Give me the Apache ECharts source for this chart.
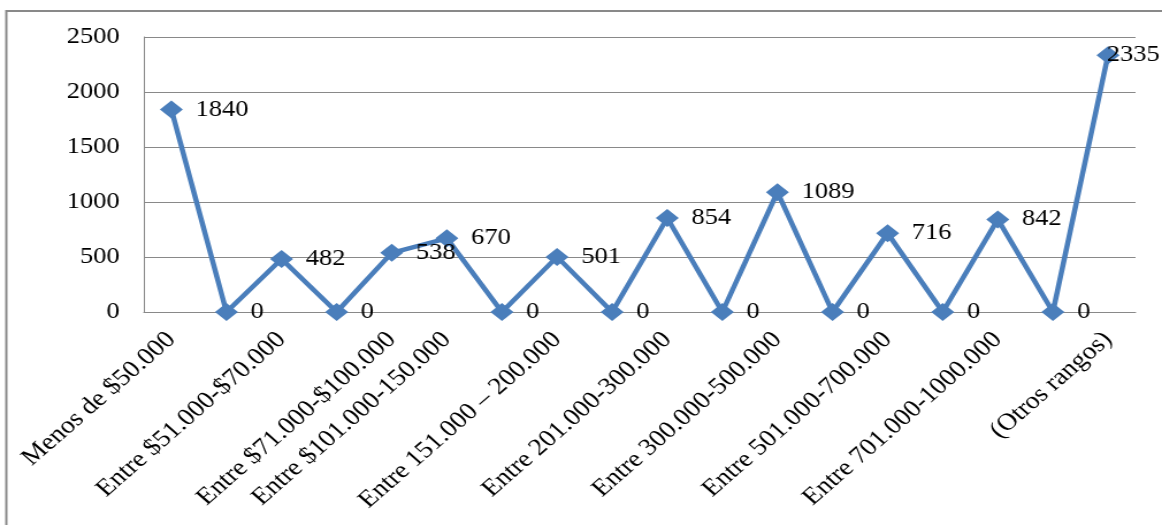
<!DOCTYPE html>
<html>
<head>
<meta charset="utf-8">
<script src="https://cdn.jsdelivr.net/npm/echarts@6/dist/echarts.min.js"></script>
<style>
  html, body { margin: 0; padding: 0; background: #ffffff; overflow: hidden; }
  /* the chart is laid out on a narrower canvas and widened horizontally */
  #chart { width: 1010px; height: 525px; transform: scaleX(1.1505); transform-origin: 0 0; }
</style>
</head>
<body>
<div id="chart"></div>
<script>
// Income ranges (unnamed slots are empty ranges between the named ones)
const categories = [
  'Menos de $50.000', '',
  'Entre $51.000-$70.000', '',
  'Entre $71.000-$100.000',
  'Entre $101.000-150.000', '',
  'Entre 151.000 \u2013 200.000', '',
  'Entre 201.000-300.000', '',
  'Entre 300.000-500.000', '',
  'Entre 501.000-700.000', '',
  'Entre 701.000-1000.000', '',
  '(Otros rangos)'
];
const values = [1840, 0, 482, 0, 538, 670, 0, 501, 0, 854, 0, 1089, 0, 716, 0, 842, 0, 2335];
const yMin = 0, yMax = 2500, yStep = 500;

const FONT = '"Liberation Serif", "Times New Roman", serif';
const BLUE = '#4a7ebb';
const GRID = '#898989';

// the last label sits over its marker so it stays inside the frame
const seriesData = values.map((v, i) => i === values.length - 1
  ? { value: v, label: { position: 'inside', offset: [22, 0] } }
  : v);

const chart = echarts.init(document.getElementById('chart'), null, { renderer: 'canvas' });
chart.setOption({
  animation: false,
  backgroundColor: '#ffffff',
  graphic: [{
    type: 'rect',
    shape: { x: 5.5, y: 11, width: 1200, height: 800 },
    style: { fill: 'none', stroke: GRID, lineWidth: 2 },
    silent: true
  }],
  grid: { left: 125, right: 23, top: 37, bottom: 213, containLabel: false },
  xAxis: {
    type: 'category',
    data: categories,
    boundaryGap: true,
    axisLine: { show: true, lineStyle: { color: GRID, width: 1 } },
    axisTick: { show: false },
    axisLabel: {
      interval: 0,
      rotate: 45,
      margin: 24,
      color: '#000000',
      fontFamily: FONT,
      fontSize: 24
    },
    splitLine: { show: false }
  },
  yAxis: {
    type: 'value',
    min: yMin,
    max: yMax,
    interval: yStep,
    axisLine: { show: true, lineStyle: { color: GRID, width: 1 } },
    axisTick: { show: false },
    axisLabel: {
      margin: 21,
      color: '#000000',
      fontFamily: FONT,
      fontSize: 23,
      formatter: v => String(v)
    },
    splitLine: { show: true, lineStyle: { color: GRID, width: 1 } }
  },
  series: [{
    type: 'line',
    data: seriesData,
    symbol: 'diamond',
    symbolSize: [20, 18],
    itemStyle: { color: BLUE },
    lineStyle: { color: BLUE, width: 4.5 },
    label: {
      show: true,
      position: 'right',
      distance: 11,
      color: '#000000',
      fontFamily: FONT,
      fontSize: 23
    }
  }]
});
</script>
</body>
</html>
